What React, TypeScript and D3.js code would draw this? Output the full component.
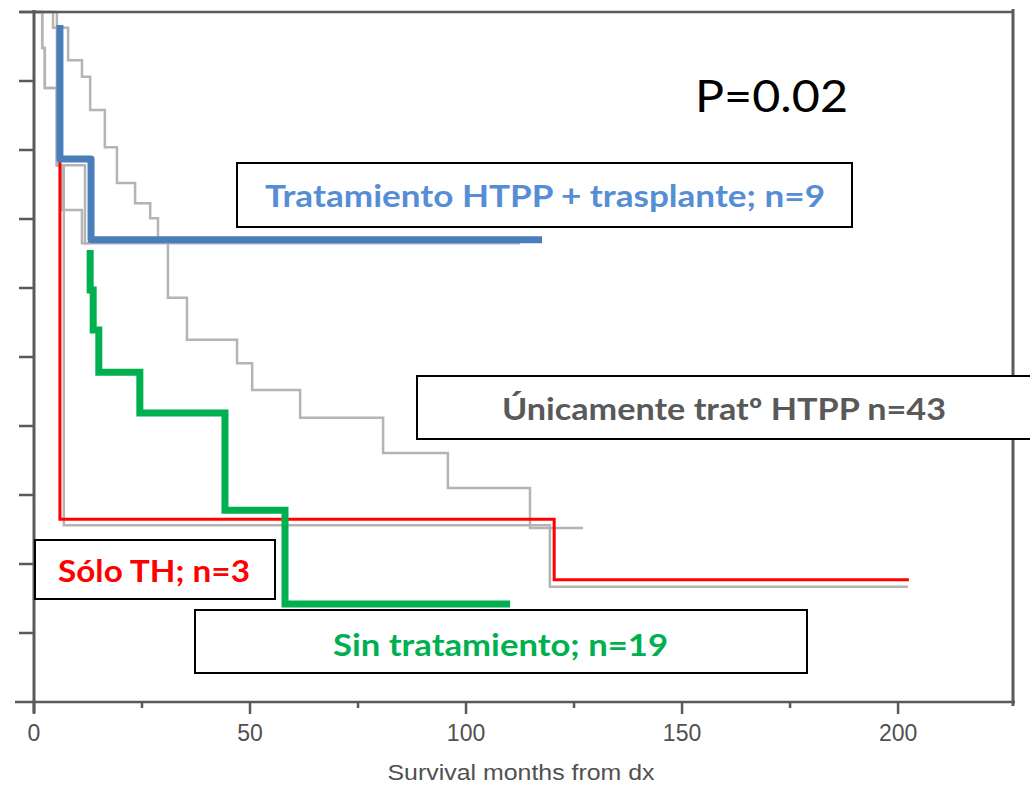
import React from "react";
import * as d3 from "d3";

// ---- Data (months, survival proportion) ----
// Gray original Kaplan-Meier curves
const grayATimes = [0, 4.4, 7.9, 11.1, 13.0, 16.4, 19.2, 23.4, 26.9, 28.7, 31.0, 35.4, 47.0, 50.5, 61.6, 80.8, 95.8, 114.8, 127.1];
const grayASurv = [1, 0.977, 0.93, 0.906, 0.858, 0.804, 0.752, 0.723, 0.701, 0.67, 0.586, 0.525, 0.491, 0.452, 0.412, 0.361, 0.31, 0.252, 0.252];

const grayBTimes = [0, 1.9, 2.5, 5.3, 11.8, 112.5];
const grayBSurv = [1, 0.948, 0.89, 0.778, 0.665, 0.665];

const grayCTimes = [0, 1.9, 2.5, 5.3, 6.5, 11.1, 13.0];
const grayCSurv = [1, 0.948, 0.89, 0.778, 0.713, 0.665, 0.665];

const grayDTimes = [0, 5.3, 6.9, 119.4, 202.3];
const grayDSurv = [1, 0.778, 0.256, 0.167, 0.167];

// Coloured overlay curves
const transplantTimes = [6.0, 6.0, 13.2, 117.6];
const transplantSurv = [0.981, 0.787, 0.67, 0.67];

const soloTHTimes = [6.0, 6.0, 120.4, 202.5];
const soloTHSurv = [0.807, 0.265, 0.177, 0.177];

const sinTratTimes = [13.0, 13.0, 13.7, 15.0, 24.5, 44.2, 58.1, 110.2];
const sinTratSurv = [0.655, 0.597, 0.539, 0.478, 0.419, 0.278, 0.142, 0.142];

// Axis ticks
const xMajorTicks = [0, 50, 100, 150, 200];
const xMinorTicks = [25, 75, 125, 175];
const yTicks = [0.1, 0.2, 0.3, 0.4, 0.5, 0.6, 0.7, 0.8, 0.9, 1.0];

// Labels
const xAxisTitle = "Survival months from dx";
const pValueText = "P=0.02";
const labelTransplant = "Tratamiento HTPP + trasplante;  n=9";
const labelHTPP = "Únicamente tratº HTPP n=43";
const labelSoloTH = "Sólo TH; n=3";
const labelSinTrat = "Sin tratamiento; n=19";

const W = 1030;
const H = 786;

export default function App() {
  const x = d3.scaleLinear().domain([0, 226.6]).range([34, 1013]);
  const y = d3.scaleLinear().domain([0, 1]).range([702, 12]);

  const toPts = (t: number[], s: number[]) => t.map((tv, i) => [tv, s[i]] as [number, number]);
  const line = d3
    .line<[number, number]>()
    .x((d) => x(d[0]))
    .y((d) => y(d[1]))
    .curve(d3.curveStepAfter);

  const grays = [
    toPts(grayATimes, grayASurv),
    toPts(grayBTimes, grayBSurv),
    toPts(grayCTimes, grayCSurv),
    toPts(grayDTimes, grayDSurv),
  ];

  const axisColor = "#5a5a5a";
  const boxFont = "Lato, 'Open Sans', sans-serif";

  return (
    <svg
      width={W}
      height={H}
      style={{ position: "absolute", left: 0, top: 0, background: "#fff" }}
      xmlns="http://www.w3.org/2000/svg"
    >
      <rect x={0} y={0} width={W} height={H} fill="#fff" />

      {/* gray KM curves */}
      {grays.map((g, i) => (
        <path key={i} d={line(g) || ""} fill="none" stroke="#b4b4b4" strokeWidth={2.5} />
      ))}

      {/* frame & axes */}
      <line x1={20} y1={12} x2={1013} y2={12} stroke={axisColor} strokeWidth={2.5} />
      <line x1={1013} y1={9} x2={1013} y2={706} stroke={axisColor} strokeWidth={3} />
      <line x1={15} y1={702} x2={1015} y2={702} stroke={axisColor} strokeWidth={2.5} />
      <line x1={34} y1={10} x2={34} y2={713} stroke={axisColor} strokeWidth={3} />
      {yTicks.map((t) => (
        <line key={t} x1={19} x2={34} y1={y(t)} y2={y(t)} stroke={axisColor} strokeWidth={2.5} />
      ))}
      {xMajorTicks.map((t) => (
        <line key={t} x1={x(t)} x2={x(t)} y1={702} y2={714} stroke={axisColor} strokeWidth={2.5} />
      ))}
      {xMinorTicks.map((t) => (
        <line key={t} x1={x(t)} x2={x(t)} y1={702} y2={708} stroke={axisColor} strokeWidth={2.5} />
      ))}
      {xMajorTicks.map((t) => (
        <text
          key={t}
          x={x(t)}
          y={741}
          textAnchor="middle"
          fontFamily="'Liberation Sans', Arial, sans-serif"
          fontSize={23}
          fill="#505050"
        >
          {t}
        </text>
      ))}
      <text
        x={521}
        y={780}
        textAnchor="middle"
        fontFamily="'Liberation Sans', Arial, sans-serif"
        fontSize={22}
        fill="#505050"
        textLength={267}
        lengthAdjust="spacingAndGlyphs"
      >
        {xAxisTitle}
      </text>

      {/* coloured curves */}
      <path
        d={line(toPts(soloTHTimes, soloTHSurv)) || ""}
        fill="none"
        stroke="#ff0000"
        strokeWidth={3}
      />
      <path
        d={line(toPts(sinTratTimes, sinTratSurv)) || ""}
        fill="none"
        stroke="#00b050"
        strokeWidth={7}
      />
      <path
        d={line(toPts(transplantTimes, transplantSurv)) || ""}
        fill="none"
        stroke="#4a7ebb"
        strokeWidth={7}
        strokeLinejoin="round"
      />

      {/* P value */}
      <text
        x={695}
        y={112}
        fontFamily={boxFont}
        fontSize={44}
        fill="#000"
        textLength={153}
        lengthAdjust="spacingAndGlyphs"
      >
        {pValueText}
      </text>

      {/* label boxes */}
      <rect x={237} y={163} width={615} height={64} fill="#fff" stroke="#000" strokeWidth={2} />
      <text
        x={265}
        y={207}
        fontFamily={boxFont}
        fontWeight={700}
        fontSize={30}
        fill="#558ed5"
        textLength={560}
        lengthAdjust="spacingAndGlyphs"
      >
        {labelTransplant}
      </text>

      <rect x={417} y={376} width={630} height={63} fill="#fff" stroke="#000" strokeWidth={2} />
      <text
        x={502}
        y={420}
        fontFamily={boxFont}
        fontWeight={700}
        fontSize={30}
        fill="#595959"
        textLength={444}
        lengthAdjust="spacingAndGlyphs"
      >
        {labelHTPP}
      </text>

      <rect x={35} y={540} width={240} height={59} fill="#fff" stroke="#000" strokeWidth={2} />
      <text
        x={58}
        y={582}
        fontFamily={boxFont}
        fontWeight={700}
        fontSize={30}
        fill="#ff0000"
        textLength={192}
        lengthAdjust="spacingAndGlyphs"
      >
        {labelSoloTH}
      </text>

      <rect x={195} y={610} width={612} height={63} fill="#fff" stroke="#000" strokeWidth={2} />
      <text
        x={333}
        y={656}
        fontFamily={boxFont}
        fontWeight={700}
        fontSize={30}
        fill="#00b050"
        textLength={335}
        lengthAdjust="spacingAndGlyphs"
      >
        {labelSinTrat}
      </text>
    </svg>
  );
}
